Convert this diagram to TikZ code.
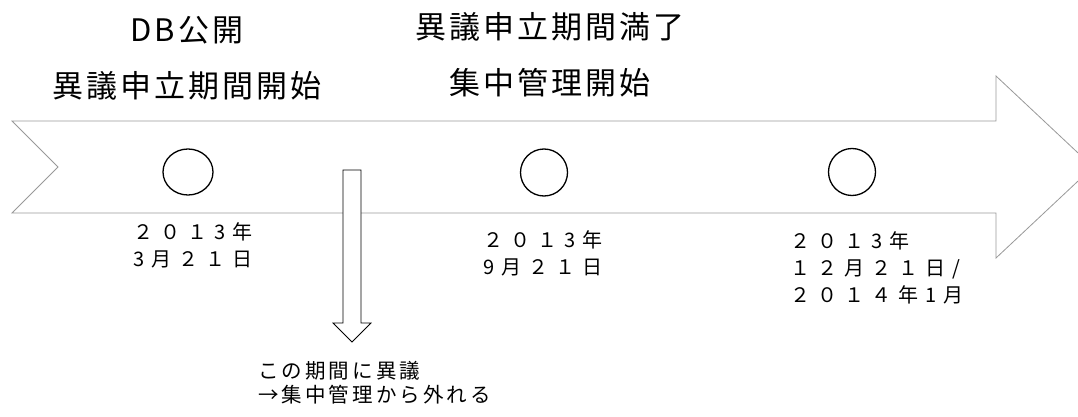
\documentclass[tikz,border=0pt]{standalone}
\usepackage{fontspec}
\newfontfamily\jptitle[LetterSpace=10]{Noto Sans CJK JP}
\newfontfamily\jpdate[LetterSpace=35]{Noto Sans CJK JP}
\newfontfamily\jpnote[LetterSpace=15]{Noto Sans CJK JP}
\usetikzlibrary{shapes.geometric}
\begin{document}
\begin{tikzpicture}[x=1pt,y=-1pt,
  title/.style={font={\jptitle\fontsize{31}{36}\selectfont},inner sep=0pt},
  datetext/.style={font={\jpdate\fontsize{20}{27}\selectfont},align=left,anchor=north west,inner sep=0pt},
  datedot/.style={ellipse,draw,line width=1.3pt,minimum width=47pt,minimum height=47pt,inner sep=0pt}]
\useasboundingbox (0,0) rectangle (1078,417);
\clip (0,0) rectangle (1078,417);
% time line
\draw[black!40,line width=0.8pt,fill=white] (12,121) -- (996,121) -- (996,76) -- (1093,167)
  -- (996,258) -- (996,213) -- (12,213) -- (58,167) -- cycle;
% headings
\node[title] (pub) at (187,30) {DB公開};
\node[title] (objstart) at (187,86) {異議申立期間開始};
\node[title] (objend) at (550,27) {異議申立期間満了};
\node[title] (mgmt) at (550,83) {集中管理開始};
% points
\node[datedot,minimum width=50pt,minimum height=46pt] (P1) at (188,172) {};
\node[datedot] (P2) at (544,172.5) {};
\node[datedot] (P3) at (852,172) {};
\node[datetext] (D1) at (133,222) {２０１3年\\3月２１日};
\node[datetext] (D2) at (483,230) {２０１3年\\9月２１日};
\node[datetext] (D3) at (790,231) {２０１3年\\１２月２１日/\\２０１４年1月};
% period arrow
\draw[fill=white,line width=0.8pt] (343,170) -- (361,170) -- (361,323) -- (371,323)
  -- (352,342) -- (333,323) -- (343,323) -- cycle;
\node[font={\jpnote\fontsize{20.5}{24}\selectfont},align=left,anchor=north west,inner sep=0pt] (note) at (258,361)
  {この期間に異議\\→集中管理から外れる};
\end{tikzpicture}
\end{document}
